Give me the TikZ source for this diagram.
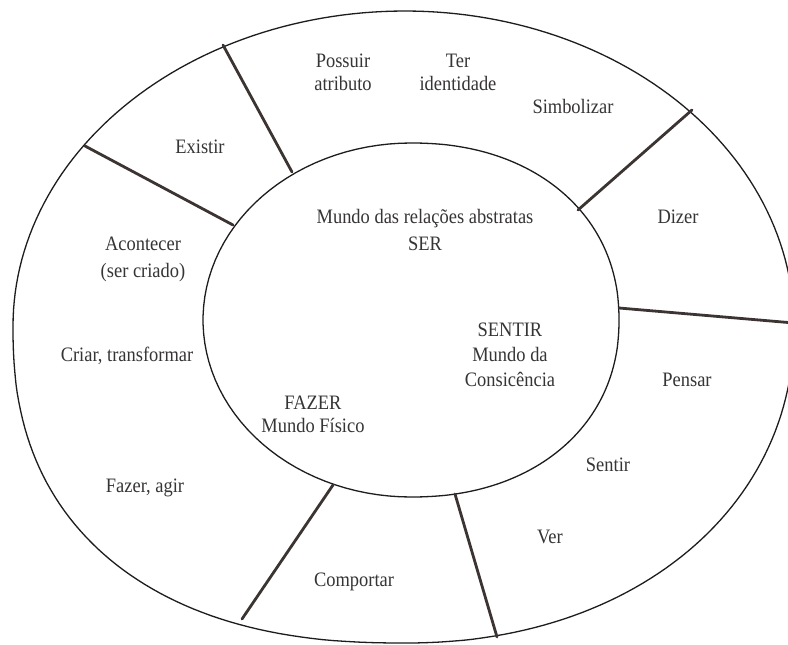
\documentclass[tikz,border=0pt]{standalone}
\usepackage{fontspec}
\setmainfont[FakeStretch=0.9]{Liberation Serif}
\definecolor{ink}{RGB}{55,52,52}
\definecolor{rimcol}{RGB}{30,28,28}
\definecolor{divcol}{RGB}{60,52,50}
\begin{document}
\begin{tikzpicture}[x=1pt,y=-1pt,
  lbl/.style={font=\fontsize{20.5}{23}\selectfont, text=ink, align=center, inner sep=0pt},
  wide/.style={font=\fontsize{20.5}{27}\selectfont},
  divider/.style={line width=2.8pt, draw=divcol, line cap=round},
  rim/.style={line width=1.3pt, draw=rimcol, line join=round},
  q/.style={samples=60, variable=\t}]
\useasboundingbox (0,0) rectangle (788,645);
\fill[white] (0,0) rectangle (788,645);
\begin{scope}
\clip (0,0) rectangle (788,645);
% outer rim (ellipse above, slightly squarer below)
\draw[rim]
  plot[q, domain=0:90]    ({405+389*pow(abs(cos(\t))+0.000001,2/2.1)},{326+317*pow(abs(sin(\t))+0.000001,2/2.1)})
  -- plot[q, domain=90:180]  ({405-392*pow(abs(cos(\t))+0.000001,2/2.35)},{326+317*pow(abs(sin(\t))+0.000001,2/2.35)})
  -- plot[q, domain=180:270] ({405+392*cos(\t)},{326+315*sin(\t)})
  -- plot[q, domain=270:360] ({405+389*cos(\t)},{326+315*sin(\t)}) -- cycle;
% inner rim
\draw[rim]
  plot[q, domain=0:90]    ({411+208*pow(abs(cos(\t))+0.000001,2/2.15)},{320+177*pow(abs(sin(\t))+0.000001,2/2.15)})
  -- plot[q, domain=90:270]  ({411+208*cos(\t)},{320+177*sin(\t)})
  -- plot[q, domain=270:360] ({411+208*pow(abs(cos(\t))+0.000001,2/2.15)},{320-177*pow(abs(sin(\t))+0.000001,2/2.15)}) -- cycle;
% divider end points
\coordinate (o1) at (85,146);  \coordinate (i1) at (233,225);
\coordinate (o2) at (223,45);  \coordinate (i2) at (292,172);
\coordinate (o3) at (692,110); \coordinate (i3) at (578,210);
\coordinate (o4) at (794,323); \coordinate (i4) at (619,308);
\coordinate (o5) at (497,637); \coordinate (i5) at (455,494);
\coordinate (o6) at (242,619); \coordinate (i6) at (333,485);
\draw[divider] (i1) -- (o1);
\draw[divider] (i2) -- (o2);
\draw[divider] (i3) -- (o3);
\draw[divider] (i4) -- (o4);
\draw[divider] (i5) -- (o5);
\draw[divider] (i6) -- (o6);
\end{scope}
% labels
\node[lbl] (possuir) at (343,72) {Possuir\\atributo};
\node[lbl] (ter) at (458,72) {Ter\\identidade};
\node[lbl] (simb) at (573,106) {Simbolizar};
\node[lbl] (existir) at (200,147) {Existir};
\node[lbl] (dizer) at (678,217) {Dizer};
\node[lbl,wide] (ser) at (425,230) {Mundo das relações abstratas\\SER};
\node[lbl,wide] (acontecer) at (143,259) {Acontecer\\(ser criado)};
\node[lbl] (criar) at (127,356) {Criar, transformar};
\node[lbl] (fazerM) at (313,414) {FAZER\\Mundo Físico};
\node[lbl,font=\fontsize{20.5}{25}\selectfont] (sentirM) at (510,355) {SENTIR\\Mundo da\\Consicência};
\node[lbl] (pensar) at (687,380) {Pensar};
\node[lbl] (sentir) at (608,465) {Sentir};
\node[lbl] (fazer) at (145,488) {Fazer, agir};
\node[lbl] (ver) at (550,537) {Ver};
\node[lbl] (comportar) at (354,582) {Comportar};
\end{tikzpicture}
\end{document}
